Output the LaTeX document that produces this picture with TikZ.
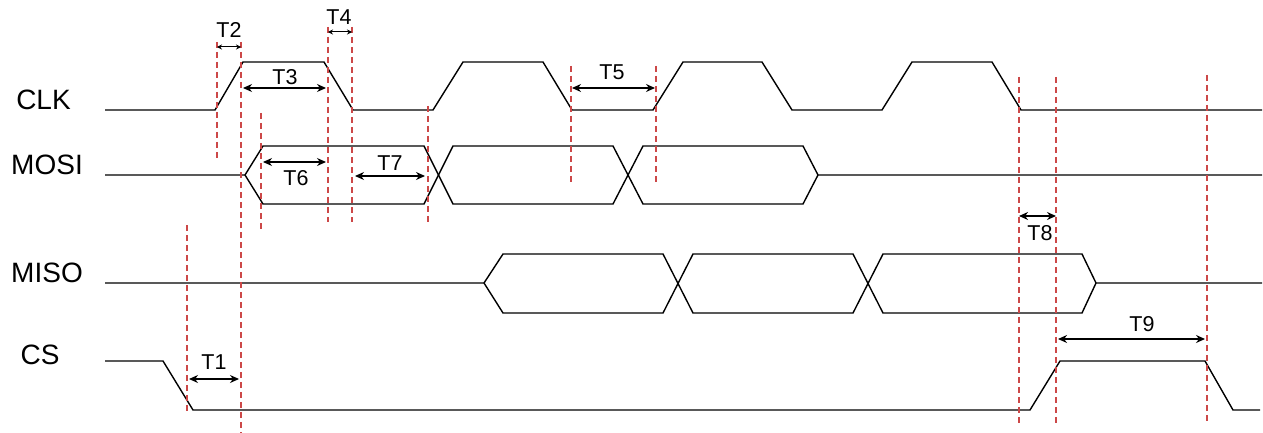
\documentclass[tikz,border=0pt]{standalone}
\usepackage{fontspec}
\setmainfont{Liberation Sans}
\usetikzlibrary{arrows.meta}
\definecolor{guidered}{RGB}{204,72,72}
\begin{document}
\begin{tikzpicture}[x=1pt,y=-1pt,
  sig/.style={line width=1.4pt, line join=miter, black},
  guide/.style={draw=guidered, line width=1.2pt, dash pattern=on 6pt off 4pt},
  dimarrow/.style={line width=1.3pt, {Stealth[length=9pt,width=8pt]}-{Stealth[length=9pt,width=8pt]}},
  smallarrow/.style={line width=1pt, {Stealth[length=5pt,width=5pt]}-{Stealth[length=5pt,width=5pt]}},
  siglabel/.style={inner sep=0pt, font=\fontsize{28}{32}\selectfont},
  tlabel/.style={inner sep=0pt, font=\fontsize{21.5}{24}\selectfont}]
\useasboundingbox (0,0) rectangle (1263,433);

% signal names
\node[siglabel] (clk) at (43.5,100) {CLK};
\node[siglabel] (mosi) at (47,165) {MOSI};
\node[siglabel] (miso) at (47,273) {MISO};
\node[siglabel] (cs) at (40,355) {CS};

% CLK
\draw[sig] (105,110) -- (215,110) -- (243,62) -- (324,62) -- (353,110) -- (433,110) -- (463,62) -- (543,62) -- (572,110) -- (653,110) -- (683,62) -- (762,62) -- (792,110) -- (882,110) -- (912,62) -- (992,62) -- (1021,110) -- (1262,110);

% MOSI
\draw[sig] (105,175) -- (245,175) -- (263,146) -- (424,146) -- (453,204) -- (613,204) -- (643,146) -- (803,146) -- (818,175) -- (1262,175);
\draw[sig] (245,175) -- (263,204) -- (424,204) -- (453,146) -- (613,146) -- (643,204) -- (803,204) -- (818,175);

% MISO
\draw[sig] (105,283) -- (484,283) -- (503,254) -- (663,254) -- (693,313) -- (853,313) -- (883,254) -- (1082,254) -- (1096,283) -- (1262,283);
\draw[sig] (484,283) -- (503,313) -- (663,313) -- (693,254) -- (853,254) -- (883,313) -- (1082,313) -- (1096,283);

% CS
\draw[sig] (105,361) -- (163,361) -- (193,410) -- (1030,410) -- (1060,361) -- (1205,361) -- (1233,410) -- (1260,410);

% guide lines
\coordinate (g1t) at (187,225); \coordinate (g1b) at (187,414);
\coordinate (g2t) at (217,42);  \coordinate (g2b) at (217,160);
\coordinate (g3t) at (241,42);  \coordinate (g3b) at (241,433);
\coordinate (g4t) at (261,113); \coordinate (g4b) at (261,230);
\coordinate (g5t) at (328,27);  \coordinate (g5b) at (328,222);
\coordinate (g6t) at (352,27);  \coordinate (g6b) at (352,222);
\coordinate (g7t) at (428,106); \coordinate (g7b) at (428,222);
\coordinate (g8t) at (571,66);  \coordinate (g8b) at (571,183);
\coordinate (g9t) at (656,66);  \coordinate (g9b) at (656,183);
\coordinate (g10t) at (1019,77); \coordinate (g10b) at (1019,425);
\coordinate (g11t) at (1056,77); \coordinate (g11b) at (1056,425);
\coordinate (g12t) at (1207,75); \coordinate (g12b) at (1207,422);
\foreach \i in {1,...,12} {\draw[guide] (g\i t) -- (g\i b);}

% dimension arrows
\coordinate (a2l) at (217,47); \coordinate (a2r) at (241,47);
\draw[smallarrow] (a2l) -- (a2r);
\node[tlabel] (t2) at (229,30) {T2};
\coordinate (a4l) at (328,32); \coordinate (a4r) at (352,32);
\draw[smallarrow] (a4l) -- (a4r);
\node[tlabel] (t4) at (339,17) {T4};
\coordinate (a3l) at (243,88); \coordinate (a3r) at (326,88);
\draw[dimarrow] (a3l) -- (a3r);
\node[tlabel] (t3) at (285,77) {T3};
\coordinate (a5l) at (572,88); \coordinate (a5r) at (655,88);
\draw[dimarrow] (a5l) -- (a5r);
\node[tlabel] (t5) at (612,72) {T5};
\coordinate (a6l) at (263,162); \coordinate (a6r) at (326,162);
\draw[dimarrow] (a6l) -- (a6r);
\node[tlabel] (t6) at (296,178) {T6};
\coordinate (a7l) at (355,176); \coordinate (a7r) at (425,176);
\draw[dimarrow] (a7l) -- (a7r);
\node[tlabel] (t7) at (390,163) {T7};
\coordinate (a8l) at (1019,216); \coordinate (a8r) at (1056,216);
\draw[dimarrow] (a8l) -- (a8r);
\node[tlabel] (t8) at (1040,233) {T8};
\coordinate (a9l) at (1058,339); \coordinate (a9r) at (1205,339);
\draw[dimarrow] (a9l) -- (a9r);
\node[tlabel] (t9) at (1142,324) {T9};
\coordinate (a1l) at (189,379); \coordinate (a1r) at (239,379);
\draw[dimarrow] (a1l) -- (a1r);
\node[tlabel] (t1) at (214,362) {T1};
\end{tikzpicture}
\end{document}
